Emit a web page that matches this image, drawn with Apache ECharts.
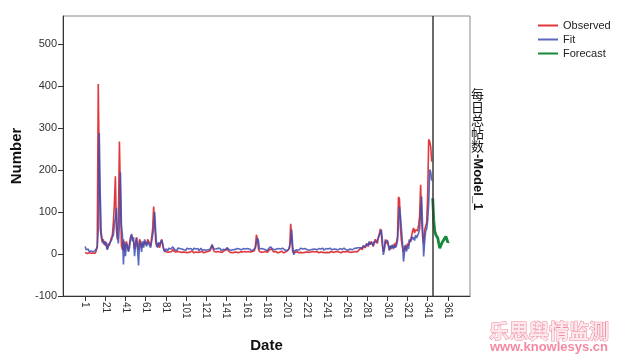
<!DOCTYPE html>
<html>
<head>
<meta charset="utf-8">
<script src="https://cdn.jsdelivr.net/npm/echarts@6/dist/echarts.min.js"></script>
<style>
html,body{margin:0;padding:0;background:#fff;}
#chart{width:621px;height:358px;}
</style>
</head>
<body>
<div id="chart"></div>
<script>
// Observed daily counts, days 1..345
const observed = [
  4,2,1,2,3,1,2,1,2,3,
  2,8,20,405,200,60,40,28,35,22,
  30,18,12,25,20,30,38,45,75,120,
  185,60,35,80,268,140,20,10,35,5,
  20,30,15,8,25,40,45,38,30,12,
  25,40,20,10,35,30,15,25,20,30,
  28,22,35,30,25,20,40,60,113,75,
  30,18,25,20,15,28,35,20,12,8,
  6,5,4,8,5,3,6,12,7,4,
  5,3,6,4,5,7,4,3,5,6,
  4,5,3,6,5,4,7,5,3,4,
  5,6,4,3,5,4,6,5,3,4,
  5,4,6,5,8,15,22,12,6,4,
  5,3,6,4,5,7,4,5,8,6,
  10,15,8,5,4,6,3,5,4,6,
  5,4,3,6,5,4,5,3,6,4,
  5,4,6,3,5,8,6,5,8,20,
  46,35,12,6,5,4,7,5,3,6,
  5,4,8,10,6,12,8,5,4,6,
  5,3,6,4,5,7,5,3,6,5,
  4,8,6,15,72,35,5,4,3,5,
  6,4,3,5,4,6,3,5,4,3,
  5,6,4,3,5,4,6,3,5,4,
  6,5,3,4,5,6,4,5,3,6,
  4,5,3,4,6,5,4,3,5,4,
  6,3,5,4,3,5,6,4,5,3,
  6,4,5,3,4,6,5,4,6,8,
  5,7,10,12,15,10,18,22,15,20,
  25,18,28,22,30,25,18,28,35,30,
  25,40,48,60,45,20,5,15,35,25,
  30,20,10,18,12,20,15,25,18,22,
  40,136,131,60,30,15,5,20,10,15,
  25,20,35,30,42,55,62,50,58,62,
  55,70,90,165,80,40,25,58,60,75,
  140,273,268,255,220
];
// Model fit, days 1..345
const fit = [
  18,10,8,12,6,9,7,10,5,8,
  9,12,15,60,288,140,50,35,25,30,
  20,28,10,18,25,22,32,40,45,70,
  85,110,40,25,70,195,70,45,-25,30,
  -5,25,20,5,15,35,48,30,40,-5,
  20,38,10,-27,30,25,5,30,15,35,
  25,18,30,28,20,15,30,45,60,100,
  55,20,15,28,22,18,33,25,10,5,
  12,15,8,14,10,12,9,17,15,10,
  12,8,14,10,13,9,12,15,10,11,
  9,14,10,12,8,13,11,9,14,10,
  12,10,13,8,11,14,9,12,10,13,
  9,12,10,13,11,14,22,20,12,10,
  12,9,14,10,13,8,12,11,14,10,
  12,15,18,10,13,9,12,10,14,11,
  10,13,9,12,14,10,11,13,9,12,
  10,13,9,12,11,8,12,10,13,15,
  15,38,32,12,10,13,9,12,14,10,
  11,8,13,12,17,14,12,15,10,9,
  12,11,13,10,12,9,14,11,10,13,
  8,12,11,14,30,58,20,-2,8,12,
  10,13,9,11,14,10,12,9,13,10,
  11,14,9,12,10,13,11,8,12,14,
  10,9,13,11,12,10,14,9,11,13,
  10,12,9,14,11,10,13,12,9,11,
  14,10,12,13,9,11,10,14,12,10,
  13,9,11,12,14,10,9,13,11,14,
  12,15,13,15,18,14,20,22,18,24,
  26,20,30,24,28,26,20,30,34,28,
  26,38,45,50,58,35,-2,10,30,28,
  33,22,8,20,15,22,12,20,15,20,
  30,70,113,90,58,26,-18,5,22,6,
  20,12,34,28,42,35,40,32,45,38,
  40,50,60,100,137,60,-6,30,55,60,
  80,120,201,195,175
];
// Forecast, starting at forecastStart
const forecastStart = 346;
const forecast = [133,80,55,46,42,38,25,14,20,26,30,34,38,42,35,28,30];

const xTicks = [1,21,41,61,81,101,121,141,161,181,201,221,241,261,281,301,321,341,361];
const yTicks = [-100,0,100,200,300,400,500];
const seriesNames = ['Observed','Fit','Forecast'];
const rightTitleCJK = ['每','日','总','帖','数'];
const rightTitleLatin = '-Model_1';

const chart = echarts.init(document.getElementById('chart'), null, {renderer:'canvas'});
const FONT = '"Liberation Sans", Arial, sans-serif';

const graphics = rightTitleCJK.map((ch, i) => ({
  type:'text', x:477.5, y:88 + i*13,
  style:{text:ch, fontFamily:'"Noto Sans CJK SC"', fontSize:13, fill:'#111', align:'center', verticalAlign:'top'}
}));
graphics.push(
  {type:'text', x:478, y:154, rotation:-Math.PI/2, style:{text:rightTitleLatin, fontFamily:FONT, fontWeight:'bold', fontSize:13, fill:'#111', align:'left', verticalAlign:'middle'}},
  {type:'text', x:549, y:331, style:{text:'乐思舆情监测', fontFamily:'"Noto Sans CJK SC"', fontWeight:'bold', fontSize:20, fill:'#fde8ec', stroke:'#f08aa0', lineWidth:1, align:'center', verticalAlign:'middle'}},
  {type:'text', x:549, y:347, style:{text:'www.knowlesys.cn', fontFamily:FONT, fontWeight:'bold', fontSize:13, fill:'#f48aa2', align:'center', verticalAlign:'middle'}}
);

const option = {
  animation: false,
  backgroundColor: '#fff',
  grid: {left:63, right:151, top:16, bottom:62, show:true, borderColor:'#8a8a8a', borderWidth:1, outerBoundsMode:'none'},
  legend: {
    orient:'vertical', left:532, top:15, itemWidth:20, itemHeight:10, itemGap:3,
    itemStyle:{opacity:0},
    textStyle:{fontFamily:FONT, fontSize:11, color:'#222'},
    data: seriesNames
  },
  xAxis: {
    type:'value', min:-21, max:383,
    name:'Date', nameLocation:'middle', nameGap:42,
    nameTextStyle:{fontFamily:FONT, fontSize:15, fontWeight:'bold', color:'#111'},
    axisLine:{show:true, onZero:false, lineStyle:{color:'#333', width:1}},
    axisTick:{show:true, length:5, customValues:xTicks, lineStyle:{color:'#333'}},
    axisLabel:{customValues:xTicks, rotate:-90, fontFamily:FONT, fontSize:10, color:'#333', margin:6},
    splitLine:{show:false}
  },
  yAxis: {
    type:'value', min:-100, max:567,
    name:'Number', nameLocation:'middle', nameGap:37,
    nameTextStyle:{fontFamily:FONT, fontSize:15, fontWeight:'bold', color:'#111'},
    axisLine:{show:true, onZero:false, lineStyle:{color:'#333', width:1}},
    axisTick:{show:true, length:5, customValues:yTicks, lineStyle:{color:'#333'}},
    axisLabel:{customValues:yTicks, fontFamily:FONT, fontSize:11, color:'#333', margin:6},
    splitLine:{show:false}
  },
  series: [
    {
      name:'Observed', type:'line', symbol:'none', color:'#e0383c',
      lineStyle:{width:1.6, color:'#e0383c'},
      data: observed.map((v,i)=>[i+1, v]),
      markLine:{
        silent:true, symbol:'none', label:{show:false},
        lineStyle:{color:'#3a3a3a', width:1.5, type:'solid'},
        data:[{xAxis: forecastStart}]
      }
    },
    {
      name:'Fit', type:'line', symbol:'none', color:'#3d4db3',
      lineStyle:{width:1.6, color:'#3d4db3', opacity:0.85},
      data: fit.map((v,i)=>[i+1, v])
    },
    {
      name:'Forecast', type:'line', symbol:'none', color:'#17893a',
      lineStyle:{width:2.8, color:'#17893a'},
      data: forecast.map((v,i)=>[forecastStart+i, v])
    }
  ],
  graphic: graphics
};
chart.setOption(option);
</script>
</body>
</html>
